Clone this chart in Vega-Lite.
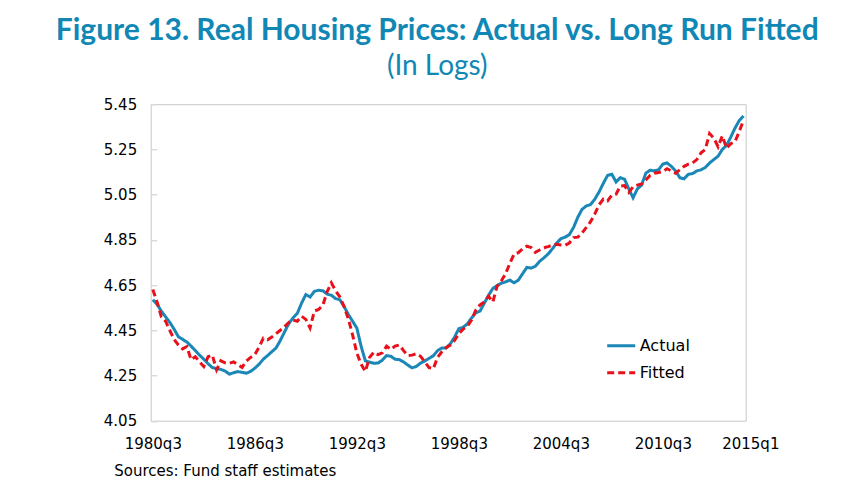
{
  "$schema": "https://vega.github.io/schema/vega-lite/v6.json",
  "width": 595,
  "height": 316.5,
  "autosize": {"type": "none"},
  "padding": {"left": 150.7, "top": 104.2, "right": 108.3, "bottom": 61.3},
  "background": "white",
  "title": {
    "text": "Figure 13. Real Housing Prices: Actual vs. Long Run Fitted",
    "subtitle": "(In Logs)",
    "font": "Lato",
    "fontSize": 30,
    "fontWeight": "bold",
    "color": "#1087b5",
    "subtitleFont": "Lato",
    "subtitleFontSize": 28,
    "subtitleColor": "#1087b5",
    "subtitlePadding": 7,
    "anchor": "middle",
    "dx": -11,
    "offset": 16
  },
  "data": {
    "values": [
      {"q": "1980q3", "Actual": 4.585, "Fitted": 4.63},
      {"q": "1980q4", "Actual": 4.565, "Fitted": 4.575},
      {"q": "1981q1", "Actual": 4.535, "Fitted": 4.51},
      {"q": "1981q2", "Actual": 4.51, "Fitted": 4.49},
      {"q": "1981q3", "Actual": 4.485, "Fitted": 4.45},
      {"q": "1981q4", "Actual": 4.455, "Fitted": 4.41},
      {"q": "1982q1", "Actual": 4.422, "Fitted": 4.385},
      {"q": "1982q2", "Actual": 4.41, "Fitted": 4.368},
      {"q": "1982q3", "Actual": 4.398, "Fitted": 4.378},
      {"q": "1982q4", "Actual": 4.38, "Fitted": 4.32},
      {"q": "1983q1", "Actual": 4.36, "Fitted": 4.333},
      {"q": "1983q2", "Actual": 4.34, "Fitted": 4.31},
      {"q": "1983q3", "Actual": 4.322, "Fitted": 4.29},
      {"q": "1983q4", "Actual": 4.302, "Fitted": 4.333},
      {"q": "1984q1", "Actual": 4.285, "Fitted": 4.34},
      {"q": "1984q2", "Actual": 4.28, "Fitted": 4.275},
      {"q": "1984q3", "Actual": 4.277, "Fitted": 4.315},
      {"q": "1984q4", "Actual": 4.27, "Fitted": 4.306},
      {"q": "1985q1", "Actual": 4.256, "Fitted": 4.304},
      {"q": "1985q2", "Actual": 4.262, "Fitted": 4.31},
      {"q": "1985q3", "Actual": 4.267, "Fitted": 4.298},
      {"q": "1985q4", "Actual": 4.264, "Fitted": 4.286},
      {"q": "1986q1", "Actual": 4.26, "Fitted": 4.314},
      {"q": "1986q2", "Actual": 4.268, "Fitted": 4.33},
      {"q": "1986q3", "Actual": 4.282, "Fitted": 4.342},
      {"q": "1986q4", "Actual": 4.3, "Fitted": 4.375},
      {"q": "1987q1", "Actual": 4.322, "Fitted": 4.415},
      {"q": "1987q2", "Actual": 4.338, "Fitted": 4.408},
      {"q": "1987q3", "Actual": 4.355, "Fitted": 4.42},
      {"q": "1987q4", "Actual": 4.372, "Fitted": 4.435},
      {"q": "1988q1", "Actual": 4.405, "Fitted": 4.45},
      {"q": "1988q2", "Actual": 4.443, "Fitted": 4.466},
      {"q": "1988q3", "Actual": 4.48, "Fitted": 4.485},
      {"q": "1988q4", "Actual": 4.505, "Fitted": 4.495},
      {"q": "1989q1", "Actual": 4.525, "Fitted": 4.49},
      {"q": "1989q2", "Actual": 4.57, "Fitted": 4.512},
      {"q": "1989q3", "Actual": 4.608, "Fitted": 4.498},
      {"q": "1989q4", "Actual": 4.597, "Fitted": 4.46},
      {"q": "1990q1", "Actual": 4.622, "Fitted": 4.535},
      {"q": "1990q2", "Actual": 4.627, "Fitted": 4.542},
      {"q": "1990q3", "Actual": 4.625, "Fitted": 4.56},
      {"q": "1990q4", "Actual": 4.61, "Fitted": 4.62},
      {"q": "1991q1", "Actual": 4.605, "Fitted": 4.66},
      {"q": "1991q2", "Actual": 4.59, "Fitted": 4.625},
      {"q": "1991q3", "Actual": 4.585, "Fitted": 4.598},
      {"q": "1991q4", "Actual": 4.555, "Fitted": 4.555},
      {"q": "1992q1", "Actual": 4.52, "Fitted": 4.5},
      {"q": "1992q2", "Actual": 4.49, "Fitted": 4.43},
      {"q": "1992q3", "Actual": 4.46, "Fitted": 4.35},
      {"q": "1992q4", "Actual": 4.38, "Fitted": 4.3},
      {"q": "1993q1", "Actual": 4.315, "Fitted": 4.268},
      {"q": "1993q2", "Actual": 4.309, "Fitted": 4.33},
      {"q": "1993q3", "Actual": 4.304, "Fitted": 4.353},
      {"q": "1993q4", "Actual": 4.305, "Fitted": 4.342},
      {"q": "1994q1", "Actual": 4.318, "Fitted": 4.35},
      {"q": "1994q2", "Actual": 4.338, "Fitted": 4.38},
      {"q": "1994q3", "Actual": 4.335, "Fitted": 4.365},
      {"q": "1994q4", "Actual": 4.322, "Fitted": 4.38},
      {"q": "1995q1", "Actual": 4.32, "Fitted": 4.385},
      {"q": "1995q2", "Actual": 4.31, "Fitted": 4.36},
      {"q": "1995q3", "Actual": 4.296, "Fitted": 4.338},
      {"q": "1995q4", "Actual": 4.284, "Fitted": 4.34},
      {"q": "1996q1", "Actual": 4.29, "Fitted": 4.346},
      {"q": "1996q2", "Actual": 4.305, "Fitted": 4.335},
      {"q": "1996q3", "Actual": 4.314, "Fitted": 4.31},
      {"q": "1996q4", "Actual": 4.326, "Fitted": 4.285},
      {"q": "1997q1", "Actual": 4.337, "Fitted": 4.28},
      {"q": "1997q2", "Actual": 4.36, "Fitted": 4.33},
      {"q": "1997q3", "Actual": 4.372, "Fitted": 4.355},
      {"q": "1997q4", "Actual": 4.372, "Fitted": 4.373},
      {"q": "1998q1", "Actual": 4.39, "Fitted": 4.385},
      {"q": "1998q2", "Actual": 4.42, "Fitted": 4.405},
      {"q": "1998q3", "Actual": 4.457, "Fitted": 4.435},
      {"q": "1998q4", "Actual": 4.463, "Fitted": 4.455},
      {"q": "1999q1", "Actual": 4.478, "Fitted": 4.468},
      {"q": "1999q2", "Actual": 4.505, "Fitted": 4.495},
      {"q": "1999q3", "Actual": 4.527, "Fitted": 4.54},
      {"q": "1999q4", "Actual": 4.535, "Fitted": 4.562},
      {"q": "2000q1", "Actual": 4.57, "Fitted": 4.575},
      {"q": "2000q2", "Actual": 4.605, "Fitted": 4.6},
      {"q": "2000q3", "Actual": 4.635, "Fitted": 4.575},
      {"q": "2000q4", "Actual": 4.648, "Fitted": 4.645},
      {"q": "2001q1", "Actual": 4.658, "Fitted": 4.668},
      {"q": "2001q2", "Actual": 4.664, "Fitted": 4.7},
      {"q": "2001q3", "Actual": 4.672, "Fitted": 4.746},
      {"q": "2001q4", "Actual": 4.66, "Fitted": 4.787},
      {"q": "2002q1", "Actual": 4.672, "Fitted": 4.793},
      {"q": "2002q2", "Actual": 4.7, "Fitted": 4.81},
      {"q": "2002q3", "Actual": 4.728, "Fitted": 4.822},
      {"q": "2002q4", "Actual": 4.725, "Fitted": 4.816},
      {"q": "2003q1", "Actual": 4.733, "Fitted": 4.795},
      {"q": "2003q2", "Actual": 4.755, "Fitted": 4.805},
      {"q": "2003q3", "Actual": 4.77, "Fitted": 4.815},
      {"q": "2003q4", "Actual": 4.787, "Fitted": 4.82},
      {"q": "2004q1", "Actual": 4.81, "Fitted": 4.826},
      {"q": "2004q2", "Actual": 4.835, "Fitted": 4.83},
      {"q": "2004q3", "Actual": 4.855, "Fitted": 4.827},
      {"q": "2004q4", "Actual": 4.862, "Fitted": 4.826},
      {"q": "2005q1", "Actual": 4.873, "Fitted": 4.836},
      {"q": "2005q2", "Actual": 4.905, "Fitted": 4.86},
      {"q": "2005q3", "Actual": 4.95, "Fitted": 4.862},
      {"q": "2005q4", "Actual": 4.985, "Fitted": 4.88},
      {"q": "2006q1", "Actual": 5.0, "Fitted": 4.905},
      {"q": "2006q2", "Actual": 5.006, "Fitted": 4.93},
      {"q": "2006q3", "Actual": 5.03, "Fitted": 4.965},
      {"q": "2006q4", "Actual": 5.062, "Fitted": 5.005},
      {"q": "2007q1", "Actual": 5.1, "Fitted": 5.03},
      {"q": "2007q2", "Actual": 5.135, "Fitted": 5.022},
      {"q": "2007q3", "Actual": 5.14, "Fitted": 5.048},
      {"q": "2007q4", "Actual": 5.106, "Fitted": 5.052},
      {"q": "2008q1", "Actual": 5.125, "Fitted": 5.088},
      {"q": "2008q2", "Actual": 5.118, "Fitted": 5.09},
      {"q": "2008q3", "Actual": 5.075, "Fitted": 5.06},
      {"q": "2008q4", "Actual": 5.036, "Fitted": 5.085},
      {"q": "2009q1", "Actual": 5.075, "Fitted": 5.092},
      {"q": "2009q2", "Actual": 5.092, "Fitted": 5.097},
      {"q": "2009q3", "Actual": 5.145, "Fitted": 5.115},
      {"q": "2009q4", "Actual": 5.158, "Fitted": 5.135},
      {"q": "2010q1", "Actual": 5.155, "Fitted": 5.145},
      {"q": "2010q2", "Actual": 5.16, "Fitted": 5.148},
      {"q": "2010q3", "Actual": 5.185, "Fitted": 5.152},
      {"q": "2010q4", "Actual": 5.19, "Fitted": 5.165},
      {"q": "2011q1", "Actual": 5.175, "Fitted": 5.155},
      {"q": "2011q2", "Actual": 5.155, "Fitted": 5.145},
      {"q": "2011q3", "Actual": 5.125, "Fitted": 5.16},
      {"q": "2011q4", "Actual": 5.12, "Fitted": 5.175},
      {"q": "2012q1", "Actual": 5.14, "Fitted": 5.185},
      {"q": "2012q2", "Actual": 5.143, "Fitted": 5.19},
      {"q": "2012q3", "Actual": 5.155, "Fitted": 5.205},
      {"q": "2012q4", "Actual": 5.16, "Fitted": 5.235},
      {"q": "2013q1", "Actual": 5.17, "Fitted": 5.25},
      {"q": "2013q2", "Actual": 5.19, "Fitted": 5.32},
      {"q": "2013q3", "Actual": 5.205, "Fitted": 5.3},
      {"q": "2013q4", "Actual": 5.22, "Fitted": 5.262},
      {"q": "2014q1", "Actual": 5.25, "Fitted": 5.31},
      {"q": "2014q2", "Actual": 5.268, "Fitted": 5.255},
      {"q": "2014q3", "Actual": 5.305, "Fitted": 5.275},
      {"q": "2014q4", "Actual": 5.345, "Fitted": 5.285},
      {"q": "2015q1", "Actual": 5.378, "Fitted": 5.33},
      {"q": "2015q2", "Actual": 5.398, "Fitted": 5.38}
    ]
  },
  "transform": [{"fold": ["Actual", "Fitted"], "as": ["series", "value"]}],
  "mark": {"type": "line", "strokeWidth": 3},
  "encoding": {
    "x": {
      "field": "q",
      "type": "ordinal",
      "sort": null,
      "scale": {"type": "point", "padding": 0.5},
      "axis": {
        "values": ["1980q3", "1986q3", "1992q3", "1998q3", "2004q3", "2010q3", "2015q1"],
        "labelAngle": 0,
        "ticks": false,
        "domain": false,
        "grid": false,
        "labelFont": "DejaVu Sans",
        "labelFontSize": 15,
        "labelColor": "#000000",
        "labelPadding": 16,
        "labelOffset": {"condition": {"test": "datum.value === '2015q1'", "value": 11}, "value": 0},
        "title": "Sources: Fund staff estimates",
        "titleFont": "DejaVu Sans",
        "titleFontSize": 15,
        "titleFontWeight": "normal",
        "titleColor": "#000000",
        "titleAnchor": "start",
        "titleAlign": "left",
        "titleBaseline": "alphabetic",
        "titleX": -37,
        "titleY": 55
      }
    },
    "y": {
      "field": "value",
      "type": "quantitative",
      "scale": {"domain": [4.05, 5.45], "nice": false, "zero": false},
      "axis": {
        "values": [4.05, 4.25, 4.45, 4.65, 4.85, 5.05, 5.25, 5.45],
        "format": ".2f",
        "title": null,
        "grid": false,
        "domain": false,
        "tickSize": -6,
        "tickColor": "#d9d9d9",
        "tickWidth": 1.5,
        "labelFont": "DejaVu Sans",
        "labelFontSize": 15,
        "labelColor": "#000000",
        "labelPadding": 20
      }
    },
    "color": {
      "field": "series",
      "type": "nominal",
      "scale": {"domain": ["Actual", "Fitted"], "range": ["#1a87b7", "#e8101a"]},
      "legend": {
        "title": null,
        "orient": "none",
        "legendX": 455,
        "legendY": 226,
        "padding": 0,
        "symbolType": "stroke",
        "symbolSize": 784,
        "symbolStrokeWidth": 3,
        "labelFont": "DejaVu Sans",
        "labelFontSize": 16,
        "labelColor": "#000000",
        "labelOffset": 3,
        "rowPadding": 3
      }
    },
    "strokeDash": {
      "field": "series",
      "type": "nominal",
      "scale": {"domain": ["Actual", "Fitted"], "range": [[1, 0], [7, 4]]},
      "legend": {
        "title": null,
        "orient": "none",
        "legendX": 455,
        "legendY": 226,
        "padding": 0,
        "symbolType": "stroke",
        "symbolSize": 784,
        "symbolStrokeWidth": 3,
        "labelFont": "DejaVu Sans",
        "labelFontSize": 16,
        "labelColor": "#000000",
        "labelOffset": 3,
        "rowPadding": 3
      }
    }
  },
  "config": {
    "view": {"stroke": "#c8c8c8", "strokeWidth": 1}
  }
}
